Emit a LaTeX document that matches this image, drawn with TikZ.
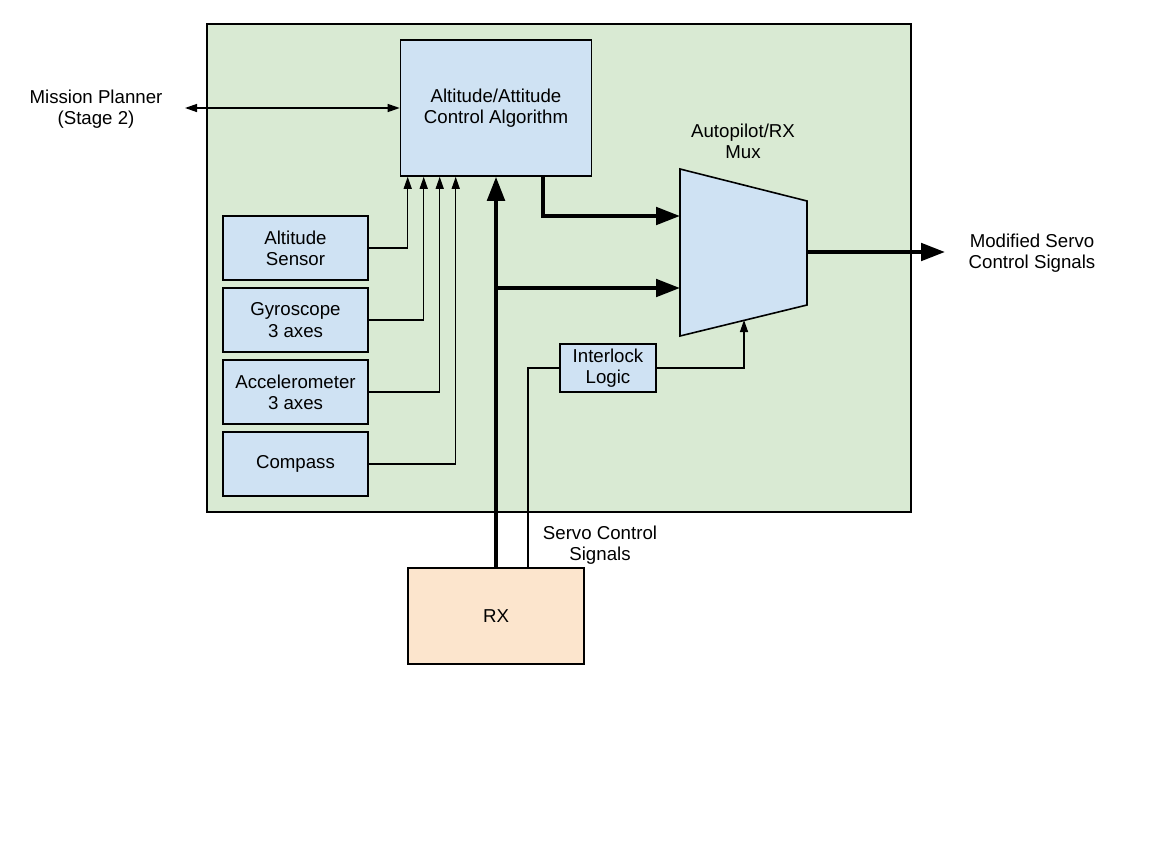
\documentclass[tikz,border=0pt]{standalone}
\usepackage{fontspec}
\setmainfont{Liberation Sans}
\usetikzlibrary{arrows.meta, calc}

\definecolor{boardFill}{HTML}{D9EAD3}
\definecolor{blockFill}{HTML}{CFE2F3}
\definecolor{rxFill}{HTML}{FCE5CD}

\tikzset{
    block/.style={draw=black, line width=1.2pt, fill=blockFill, align=center,
        inner sep=0pt, font=\fontsize{14}{16}\selectfont},
    sensor/.style={block, minimum width=108.75pt, minimum height=48pt},
    label/.style={align=center, inner sep=0pt, font=\fontsize{14}{16}\selectfont},
    sig/.style={line width=1pt, -{Triangle[length=9pt, width=6pt]}},
    bus/.style={line width=3pt, -{Triangle[length=18pt, width=13pt]}}
}

\begin{document}
\begin{tikzpicture}[x=0.75pt, y=-0.75pt]
    % Page size
    \useasboundingbox (0,0) rectangle (1152,864);

    % Autopilot board
    \draw[line width=1.2pt, fill=boardFill] (207,24) rectangle (911,512);

    % Control algorithm and sensors
    \node[block, minimum width=143.25pt, minimum height=102pt] (ctrl) at (496,108)
        {Altitude/Attitude\\Control Algorithm};
    \node[sensor] (alt) at (295.5,248) {Altitude\\Sensor};
    \node[sensor] (gyro) at (295.5,320) {Gyroscope\\3 axes};
    \node[sensor] (accel) at (295.5,392) {Accelerometer\\3 axes};
    \node[sensor] (compass) at (295.5,464) {Compass};

    % Interlock and receiver
    \node[block, minimum width=72pt, minimum height=36pt] (lock) at (608,368) {Interlock\\Logic};
    \node[block, fill=rxFill, minimum width=132pt, minimum height=72pt] (rx) at (496,616) {RX};

    % Mux
    \coordinate (muxTL) at (680,169);
    \coordinate (muxTR) at (807,201);
    \coordinate (muxBR) at (807,305);
    \coordinate (muxBL) at (680,336);
    \draw[line width=1.2pt, fill=blockFill] (muxTL) -- (muxTR) -- (muxBR) -- (muxBL) -- cycle;
    \coordinate (muxIn1) at (680,216);
    \coordinate (muxIn2) at (680,288);
    \coordinate (muxOut) at (807,252);
    \coordinate (muxSel) at (744,320);
    \node[label] (muxLabel) at (743,141) {Autopilot/RX\\Mux};

    % Outside labels
    \node[label] (mp) at (96,109) {Mission Planner\\(Stage 2)};
    \coordinate (mpTip) at (185,108);
    \node[label] (out) at (1032,253) {Modified Servo\\Control Signals};
    \coordinate (outTip) at (945,252);
    \node[label] (servo) at (600,545) {Servo Control\\Signals};

    % Sensor links
    \foreach \s/\dx in {alt/8, gyro/24, accel/40, compass/56}
        \draw[sig] (\s.east) -| ([xshift=\dx*0.75pt]ctrl.south west);

    % Mission planner link
    \draw[sig, {Triangle[length=9pt, width=6pt]}-{Triangle[length=9pt, width=6pt]}] (mpTip) -- (ctrl.west);

    % RX links
    \draw[bus] (rx.north) -- (ctrl.south);
    \draw[bus] (muxIn2 -| rx.north) -- (muxIn2);
    \draw[bus] ([xshift=35.25pt]ctrl.south) |- (muxIn1);
    \draw[bus] (muxOut) -- (outTip);
    \draw[sig, -] ([xshift=24pt]rx.north) |- (lock.west);
    \draw[sig] (lock.east) -| (muxSel);
\end{tikzpicture}
\end{document}
